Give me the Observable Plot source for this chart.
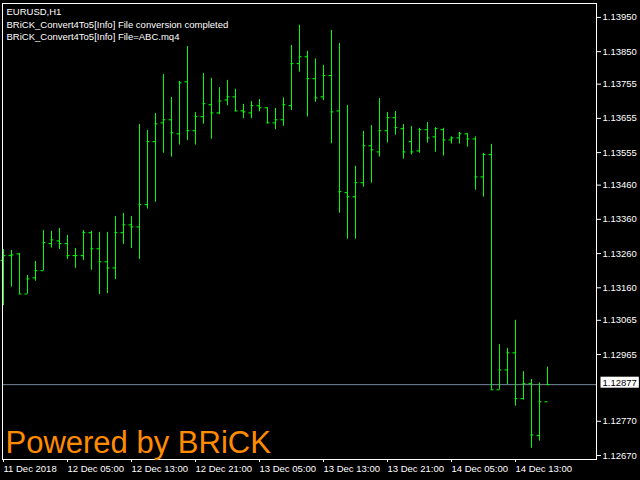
<!DOCTYPE html>
<html><head><meta charset="utf-8">
<script src="https://cdn.jsdelivr.net/npm/d3@7"></script>
<script src="https://cdn.jsdelivr.net/npm/@observablehq/plot@0.6"></script>
<style>html,body{margin:0;padding:0;background:#000;overflow:hidden;}</style>
</head><body><div id="chart"></div>
<script>
const symbolTitle = "EURUSD,H1";
const infoLines = ["BRiCK_Convert4To5[Info] File conversion completed", "BRiCK_Convert4To5[Info] File=ABC.mq4"];
const watermark = "Powered by BRiCK";
const xTickBars = [0, 8, 16, 24, 32, 40, 48, 56, 64];
const xTickLabels = ["11 Dec 2018", "12 Dec 05:00", "12 Dec 13:00", "12 Dec 21:00", "13 Dec 05:00", "13 Dec 13:00", "13 Dec 21:00", "14 Dec 05:00", "14 Dec 13:00"];
const yTickValues = [1.13950, 1.13850, 1.13755, 1.13655, 1.13555, 1.13460, 1.13360, 1.13260, 1.13160, 1.13065, 1.12965, 1.12770, 1.12670];
const lastPrice = 1.12877;

const open = [1.13240,1.13254,1.13259,1.13142,1.13189,1.13210,1.13289,1.13297,1.13289,1.13254,1.13254,1.13321,1.13274,1.13236,1.13218,1.13321,1.13344,1.13338,1.13403,1.13587,1.13642,1.13651,1.13610,1.13762,1.13619,1.13660,1.13695,1.13671,1.13709,1.13718,1.13677,1.13671,1.13692,1.13686,1.13642,1.13651,1.13692,1.13815,1.13835,1.13771,1.13718,1.13780,1.13677,1.13438,1.13426,1.13467,1.13575,1.13557,1.13619,1.13657,1.13625,1.13587,1.13560,1.13622,1.13601,1.13622,1.13592,1.13598,1.13610,1.13595,1.13484,1.13549,1.12862,1.12920,1.12970,1.12836,1.12880,1.12728,1.12827];
const high = [1.13272,1.13269,1.13260,1.13196,1.13237,1.13327,1.13325,1.13333,1.13313,1.13275,1.13327,1.13325,1.13322,1.13322,1.13368,1.13377,1.13368,1.13637,1.13620,1.13669,1.13783,1.13716,1.13763,1.13865,1.13672,1.13786,1.13772,1.13745,1.13766,1.13740,1.13696,1.13704,1.13710,1.13686,1.13684,1.13715,1.13868,1.13927,1.13851,1.13829,1.13810,1.13912,1.13874,1.13693,1.13515,1.13617,1.13634,1.13713,1.13672,1.13675,1.13637,1.13631,1.13626,1.13643,1.13628,1.13626,1.13601,1.13614,1.13610,1.13601,1.13553,1.13579,1.12994,1.12983,1.13065,1.12915,1.12892,1.12882,1.12928];
const low = [1.13108,1.13162,1.13142,1.13142,1.13179,1.13210,1.13276,1.13272,1.13243,1.13217,1.13240,1.13211,1.13140,1.13143,1.13184,1.13287,1.13275,1.13243,1.13390,1.13410,1.13553,1.13542,1.13577,1.13590,1.13577,1.13638,1.13594,1.13666,1.13692,1.13674,1.13654,1.13654,1.13674,1.13639,1.13622,1.13632,1.13678,1.13790,1.13659,1.13702,1.13707,1.13581,1.13378,1.13302,1.13302,1.13454,1.13466,1.13542,1.13583,1.13606,1.13536,1.13548,1.13553,1.13583,1.13556,1.13545,1.13580,1.13580,1.13571,1.13445,1.13425,1.12862,1.12862,1.12877,1.12814,1.12832,1.12691,1.12712,1.12877];
const close = [1.13254,1.13256,1.13142,1.13186,1.13210,1.13292,1.13300,1.13289,1.13254,1.13254,1.13321,1.13274,1.13236,1.13218,1.13321,1.13344,1.13338,1.13403,1.13587,1.13639,1.13651,1.13613,1.13759,1.13619,1.13660,1.13698,1.13671,1.13706,1.13718,1.13677,1.13674,1.13692,1.13686,1.13642,1.13651,1.13695,1.13815,1.13835,1.13771,1.13715,1.13780,1.13674,1.13441,1.13426,1.13467,1.13575,1.13563,1.13619,1.13657,1.13628,1.13557,1.13557,1.13622,1.13598,1.13625,1.13592,1.13598,1.13610,1.13595,1.13484,1.13549,1.12862,1.12920,1.12970,1.12836,1.12880,1.12730,1.12827,1.12877];

const bars = open.map((o, i) => ({i, open: o, high: high[i], low: low[i], close: close[i]}));
const FONT = "'Liberation Sans', Arial, sans-serif";
const GREEN = "#00ff00";
const fmt = d3.format(".5f");

const plot = Plot.plot({
  width: 640, height: 480,
  marginTop: 3, marginRight: 44, marginBottom: 21, marginLeft: 2,
  style: {background: "#000", color: "#fff", fontFamily: FONT, fontSize: "9.5px"},
  x: {domain: [-0.125, 74.125]},
  y: {domain: [1.126583, 1.139907]},
  marks: [
    Plot.ruleY([lastPrice], {y: d => d, stroke: "#778899"}),
    Plot.ruleX(bars, {x: "i", y1: "low", y2: "high", stroke: GREEN}),
    Plot.ruleY(bars, {y: "open", x1: d => d.i - 2.5 / 8, x2: d => d.i + 0.5 / 8, stroke: GREEN}),
    Plot.ruleY(bars, {y: "close", x1: d => d.i - 0.5 / 8, x2: d => d.i + 2.5 / 8, stroke: GREEN}),
    Plot.frame({stroke: "#fff"}),
    Plot.axisX({ticks: xTickBars, tickFormat: d => xTickLabels[xTickBars.indexOf(d)], tickSize: 3, tickPadding: 3, textAnchor: "start", label: null, stroke: "#fff", fill: "#fff"}),
    Plot.axisY({anchor: "right", ticks: yTickValues, tickFormat: fmt, tickSize: 4, tickPadding: 2, label: null, stroke: "#fff", fill: "#fff"}),
    Plot.text([symbolTitle], {text: d => d, frameAnchor: "top-left", lineAnchor: "bottom", textAnchor: "start", dx: 4, dy: 11, fill: "#fff"}),
    Plot.text([infoLines[0]], {text: d => d, frameAnchor: "top-left", lineAnchor: "bottom", textAnchor: "start", dx: 4, dy: 24, fill: "#fff"}),
    Plot.text([infoLines[1]], {text: d => d, frameAnchor: "top-left", lineAnchor: "bottom", textAnchor: "start", dx: 4, dy: 36.5, fill: "#fff"}),
    Plot.text([watermark], {text: d => d, frameAnchor: "bottom-left", lineAnchor: "bottom", textAnchor: "start", dx: 3, dy: -7, fontSize: 31, fill: "#ff8c00"}),
    Plot.text([lastPrice], {y: d => d, text: d => fmt(d), frameAnchor: "right", textAnchor: "start", dx: 6, dy: -2, fill: "#000"})
  ]
});
document.getElementById("chart").appendChild(plot);

// white box behind the current-price label (last mark)
const priceText = Array.from(plot.querySelectorAll("text")).filter(t => t.textContent === fmt(lastPrice)).pop();
if (priceText) {
  const g = priceText.closest("g") || priceText;
  const sb = plot.getBoundingClientRect();
  const tb = priceText.getBoundingClientRect();
  const rect = document.createElementNS("http://www.w3.org/2000/svg", "rect");
  rect.setAttribute("x", tb.left - sb.left - 2);
  rect.setAttribute("y", tb.top - sb.top);
  rect.setAttribute("width", tb.width + 4);
  rect.setAttribute("height", tb.height);
  rect.setAttribute("fill", "#fff");
  g.parentNode.insertBefore(rect, g);
}
</script>
</body></html>
